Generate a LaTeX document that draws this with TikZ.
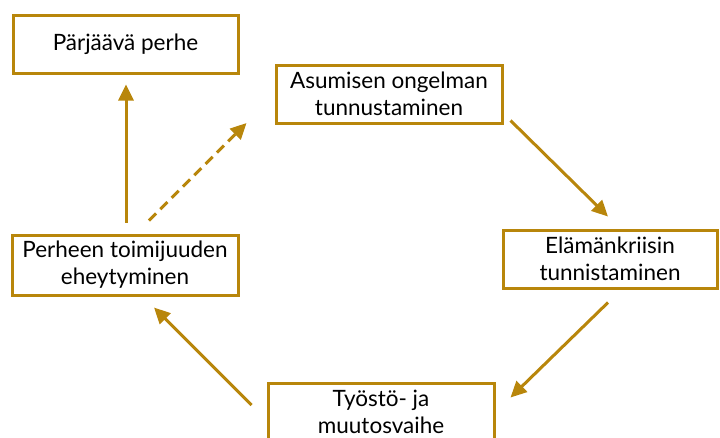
\documentclass[tikz,border=0pt]{standalone}
\usepackage{fontspec}
\setmainfont{Lato}
\usetikzlibrary{arrows.meta}
\definecolor{gold}{HTML}{B8860B}
\begin{document}
\begin{tikzpicture}[x=1pt,y=-1pt,
  box/.style={draw=gold,line width=3pt,fill=white,align=center,inner sep=0pt,
    font=\fontsize{22.5}{27}\selectfont,text=black},
  arr/.style={draw=gold,line width=3pt,-{Triangle[length=16pt,width=15pt]}},
  dasharr/.style={arr,dash pattern=on 10pt off 6pt}]
\useasboundingbox (0,0) rectangle (720,437);
\node[box,minimum width=225pt,minimum height=58pt] (b1) at (125.5,44) {Pärjäävä perhe};
\node[box,minimum width=226pt,minimum height=58pt] (b2) at (389,94) {Asumisen ongelman\\tunnustaminen};
\node[box,minimum width=214pt,minimum height=58pt] (b3) at (610,259) {Elämänkriisin\\tunnistaminen};
\node[box,minimum width=226pt,minimum height=60pt] (b4) at (125,265) {Perheen toimijuuden\\eheytyminen};
\node[box,minimum width=226pt,minimum height=58pt] (b5) at (381,412) {Työstö- ja\\muutosvaihe};
\draw[arr] ([shift={(1,-11)}]b4.north) -- ([shift={(0.5,10)}]b1.south);
\draw[dasharr] ([shift={(24,-13)}]b4.north) -- ([shift={(-28,29)}]b2.west);
\draw[arr] ([shift={(7,-4)}]b2.south east) -- ([shift={(-2,-12)}]b3.north);
\draw[arr] ([shift={(-2,13)}]b3.south) -- ([shift={(15,16)}]b5.north east);
\draw[arr] ([shift={(-15,-7)}]b5.west) -- ([shift={(29,11)}]b4.south);
\end{tikzpicture}
\end{document}
